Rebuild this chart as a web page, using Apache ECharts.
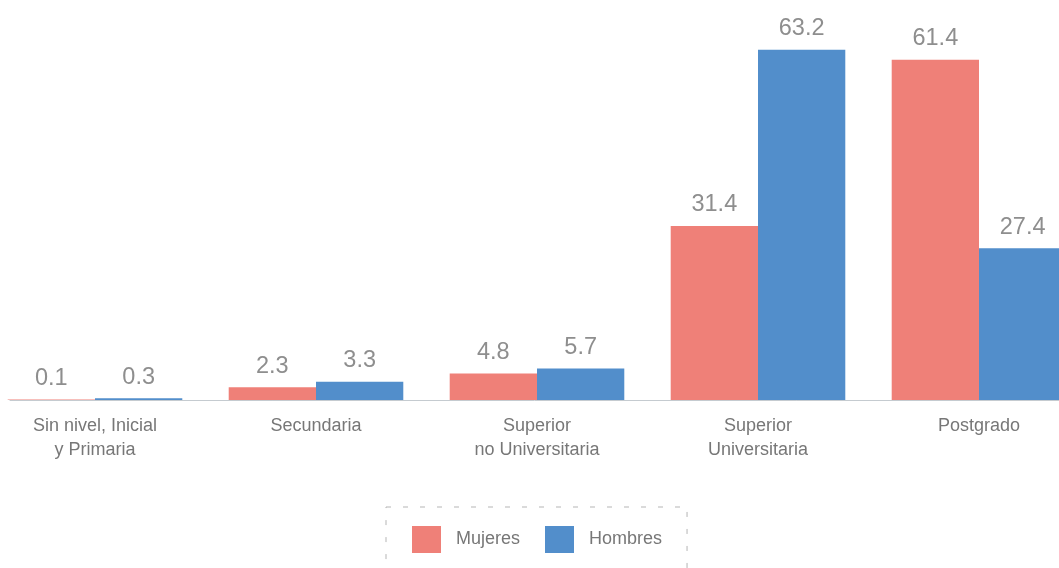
<!DOCTYPE html>
<html>
<head>
<meta charset="utf-8">
<script src="https://cdn.jsdelivr.net/npm/echarts@6/dist/echarts.min.js"></script>
<style>
  html, body { margin: 0; padding: 0; background: #ffffff; }
  #chart { width: 1059px; height: 568px; }
</style>
</head>
<body>
<div id="chart"></div>
<script>
// Education level categories (axis labels, line breaks as drawn)
const categories = [
  'Sin nivel, Inicial\ny Primaria',
  'Secundaria',
  'Superior\nno Universitaria',
  'Superior\nUniversitaria',
  'Postgrado'
];
const seriesNames = ['Mujeres', 'Hombres'];
const mujeres = [0.1, 2.3, 4.8, 31.4, 61.4];
const hombres = [0.3, 3.3, 5.7, 63.2, 27.4];

const FONT = '"Liberation Sans", Arial, sans-serif';
const RED = '#EF8078';
const BLUE = '#528ECB';

const chart = echarts.init(document.getElementById('chart'), null, { renderer: 'canvas' });

const valueLabel = {
  show: true,
  position: 'top',
  distance: 9,
  color: '#8e8e8e',
  fontFamily: FONT,
  fontSize: 23.5,
  formatter: p => p.value.toFixed(1)
};

chart.setOption({
  backgroundColor: '#ffffff',
  animation: false,
  legend: {
    data: seriesNames,
    left: 386,
    top: 507,
    orient: 'horizontal',
    itemWidth: 29,
    itemHeight: 27,
    itemGap: 25,
    padding: [19, 25, 19, 26],
    borderColor: '#b5b5b5',
    borderWidth: 1,
    borderType: [5, 12],
    icon: 'rect',
    textStyle: {
      color: '#777777',
      fontFamily: FONT,
      fontSize: 18,
      padding: [0, 0, 0, 10]
    }
  },
  grid: [
    { left: -15.5, right: -30.5, top: 12, bottom: 168, outerBoundsMode: 'none' },
    { left: 10, right: 0, top: 12, bottom: 168, outerBoundsMode: 'none' }
  ],
  xAxis: [
    {
      type: 'category',
      gridIndex: 0,
      data: categories,
      axisLine: { show: false },
      axisTick: { show: false },
      axisLabel: {
        color: '#777777',
        fontFamily: FONT,
        fontSize: 18,
        lineHeight: 24,
        margin: 14,
        interval: 0
      }
    },
    {
      // baseline rule under the bars
      type: 'category',
      gridIndex: 1,
      data: [''],
      axisLine: { show: true, lineStyle: { color: '#c5cbd0', width: 1 } },
      axisTick: { show: false },
      axisLabel: { show: false }
    }
  ],
  yAxis: [
    { type: 'value', gridIndex: 0, min: 0, max: 70, show: false },
    { type: 'value', gridIndex: 1, min: 0, max: 70, show: false }
  ],
  series: [
    {
      name: seriesNames[0],
      type: 'bar',
      xAxisIndex: 0,
      yAxisIndex: 0,
      data: mujeres,
      barGap: '0%',
      barCategoryGap: '21%',
      itemStyle: { color: RED },
      label: valueLabel
    },
    {
      name: seriesNames[1],
      type: 'bar',
      xAxisIndex: 0,
      yAxisIndex: 0,
      data: hombres,
      barGap: '0%',
      barCategoryGap: '21%',
      itemStyle: { color: BLUE },
      label: valueLabel
    }
  ]
});
</script>
</body>
</html>
